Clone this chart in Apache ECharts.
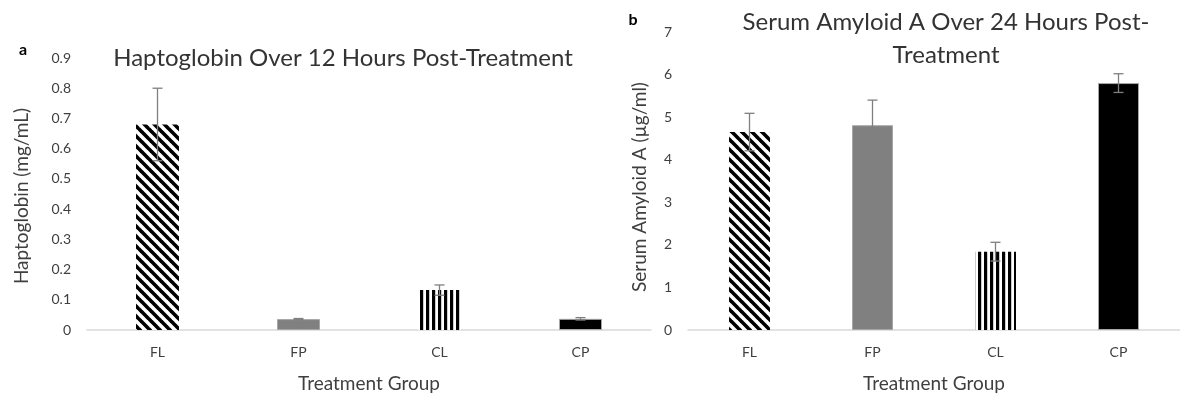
<!DOCTYPE html>
<html>
<head>
<meta charset="utf-8">
<script src="https://cdn.jsdelivr.net/npm/echarts@6/dist/echarts.min.js"></script>
<style>
  html, body { margin: 0; padding: 0; background: #fff; }
  #chart { width: 1180px; height: 398px; }
</style>
</head>
<body>
<div id="chart"></div>
<script>
// Treatment groups shared by both panels
const groups = ['FL', 'FP', 'CL', 'CP'];

// Panel a: haptoglobin (mg/mL), mean and error
const hpMean = [0.68, 0.036, 0.132, 0.037];
const hpErr = [0.12, 0.002, 0.017, 0.004];

// Panel b: serum amyloid A (µg/ml), mean and error
const saaMean = [4.65, 4.81, 1.84, 5.80];
const saaErr = [0.44, 0.59, 0.22, 0.22];

const FONT = 'Lato, "Open Sans", sans-serif';
const TXT = '#3f3f3f';

// Fill patterns
function diagonalPattern() {
  const c = document.createElement('canvas');
  c.width = 10; c.height = 10;
  const g = c.getContext('2d');
  g.fillStyle = '#fff'; g.fillRect(0, 0, 10, 10);
  g.strokeStyle = '#000'; g.lineWidth = 3.6;
  for (const o of [-10, 0, 10]) {
    g.beginPath(); g.moveTo(o - 1, -1); g.lineTo(o + 11, 11); g.stroke();
  }
  return { image: c, repeat: 'repeat' };
}
function verticalPattern() {
  const c = document.createElement('canvas');
  c.width = 6; c.height = 6;
  const g = c.getContext('2d');
  g.fillStyle = '#fff'; g.fillRect(0, 0, 6, 6);
  g.fillStyle = '#000'; g.fillRect(0, 0, 3.2, 6);
  return { image: c, repeat: 'repeat' };
}
const fills = [
  { color: diagonalPattern(), borderWidth: 0 },
  { color: '#808080', borderColor: '#a6a6a6', borderWidth: 1 },
  { color: verticalPattern(), borderWidth: 0 },
  { color: '#000000', borderColor: '#a6a6a6', borderWidth: 1 }
];

function barData(values) {
  return values.map((v, i) => ({ value: v, itemStyle: fills[i] }));
}
function errData(means, errs) {
  return means.map((m, i) => [i, m, errs[i]]);
}
function renderErr(params, api) {
  const i = api.value(0), m = api.value(1), e = api.value(2);
  const hi = api.coord([i, m + e]);
  const lo = api.coord([i, m - e]);
  const cap = 5;
  const style = { stroke: '#7f7f7f', lineWidth: 1.3 };
  return {
    type: 'group',
    children: [
      { type: 'line', shape: { x1: hi[0], y1: hi[1], x2: lo[0], y2: lo[1] }, style },
      { type: 'line', shape: { x1: hi[0] - cap, y1: hi[1], x2: hi[0] + cap, y2: hi[1] }, style },
      { type: 'line', shape: { x1: lo[0] - cap, y1: lo[1], x2: lo[0] + cap, y2: lo[1] }, style }
    ]
  };
}

function xAxis(gridIndex) {
  return {
    type: 'category', gridIndex, data: groups,
    axisLine: { lineStyle: { color: '#d9d9d9', width: 1.5 } },
    axisTick: { show: false },
    axisLabel: { color: TXT, fontFamily: FONT, fontSize: 14, margin: 15 },
    name: 'Treatment Group', nameLocation: 'middle', nameGap: 44,
    nameTextStyle: { color: TXT, fontFamily: FONT, fontSize: 19 }
  };
}
function yAxis(gridIndex, max, interval, name, gap, padding) {
  return {
    type: 'value', gridIndex, min: 0, max, interval,
    axisLine: { show: false }, axisTick: { show: false }, splitLine: { show: false },
    axisLabel: { color: TXT, fontFamily: FONT, fontSize: 14, margin: 16 },
    name, nameLocation: 'middle', nameGap: gap,
    nameTextStyle: { color: TXT, fontFamily: FONT, fontSize: 19, padding }
  };
}

const chart = echarts.init(document.getElementById('chart'), null, { renderer: 'canvas' });
chart.setOption({
  animation: false,
  backgroundColor: '#fff',
  grid: [
    { left: 87, top: 58, width: 564, bottom: 63 },
    { left: 688, top: 32, width: 520, bottom: 59 }
  ],
  xAxis: [xAxis(0), xAxis(1)],
  yAxis: [
    yAxis(0, 0.9, 0.1, 'Haptoglobin (mg/mL)', 56, [0, 4, 0, 0]),
    yAxis(1, 7, 1, 'Serum Amyloid A (µg/ml)', 39, [0, 12, 0, 0])
  ],
  series: [
    { type: 'bar', xAxisIndex: 0, yAxisIndex: 0, barWidth: 43, data: barData(hpMean) },
    { type: 'custom', xAxisIndex: 0, yAxisIndex: 0, renderItem: renderErr, data: errData(hpMean, hpErr), z: 5 },
    { type: 'bar', xAxisIndex: 1, yAxisIndex: 1, barWidth: 41, data: barData(saaMean) },
    { type: 'custom', xAxisIndex: 1, yAxisIndex: 1, renderItem: renderErr, data: errData(saaMean, saaErr), z: 5 }
  ],
  graphic: [
    // panel a's axis line stops where panel b begins
    { type: 'rect', z: 100, shape: { x: 617, y: 331, width: 40, height: 8 }, style: { fill: '#fff' } },
    { type: 'text', z: 101, x: 23, y: 50, style: { text: 'a', font: 'bold 16px ' + FONT, fill: '#000', align: 'center', verticalAlign: 'middle' } },
    { type: 'text', z: 101, x: 633, y: 20, style: { text: 'b', font: 'bold 16px ' + FONT, fill: '#000', align: 'center', verticalAlign: 'middle' } },
    { type: 'text', z: 101, x: 343, y: 58, style: { text: 'Haptoglobin Over 12 Hours Post-Treatment', font: '24px ' + FONT, fill: '#333333', align: 'center', verticalAlign: 'middle' } },
    { type: 'text', z: 101, x: 946, y: 22, style: { text: 'Serum Amyloid A Over 24 Hours Post-', font: '24px ' + FONT, fill: '#333333', align: 'center', verticalAlign: 'middle' } },
    { type: 'text', z: 101, x: 946, y: 55, style: { text: 'Treatment', font: '24px ' + FONT, fill: '#333333', align: 'center', verticalAlign: 'middle' } }
  ]
});
</script>
</body>
</html>
